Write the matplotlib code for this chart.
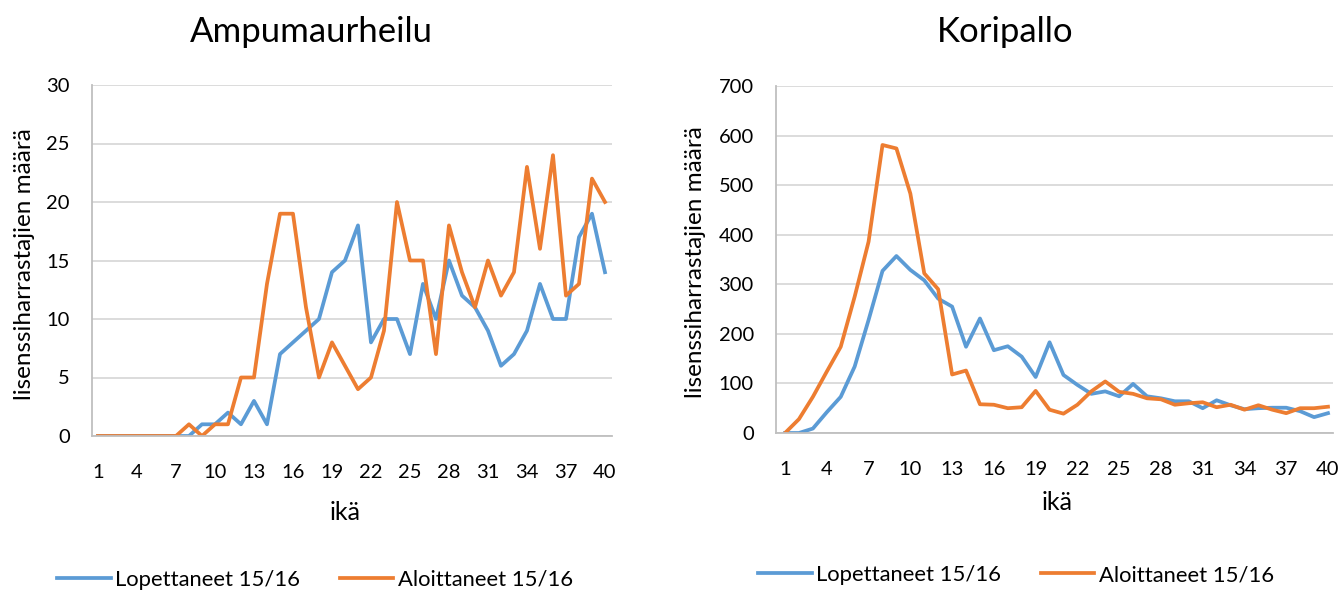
import matplotlib
matplotlib.use("Agg")
import matplotlib.pyplot as plt

plt.rcParams['font.family'] = ['Lato', 'DejaVu Sans']

# ikä 1..40
ages = list(range(1, 41))

# Ampumaurheilu
ampu_lopettaneet = [0, 0, 0, 0, 0, 0, 0, 0, 1, 1, 2, 1, 3, 1, 7, 8, 9, 10, 14, 15,
                    18, 8, 10, 10, 7, 13, 10, 15, 12, 11, 9, 6, 7, 9, 13, 10, 10, 17, 19, 14]
ampu_aloittaneet = [0, 0, 0, 0, 0, 0, 0, 1, 0, 1, 1, 5, 5, 13, 19, 19, 11, 5, 8, 6,
                    4, 5, 9, 20, 15, 15, 7, 18, 14, 11, 15, 12, 14, 23, 16, 24, 12, 13, 22, 20]

# Koripallo
kori_lopettaneet = [0, 0, 9, 42, 73, 134, 228, 327, 357, 329, 308, 271, 255, 174, 231, 167, 175, 154, 113, 183,
                    117, 97, 79, 84, 74, 99, 74, 70, 64, 64, 50, 66, 56, 48, 50, 51, 51, 44, 32, 40]
kori_aloittaneet = [0, 28, 73, 124, 174, 275, 386, 581, 574, 483, 322, 290, 118, 126, 58, 57, 50, 52, 85, 47,
                    39, 57, 84, 104, 83, 79, 70, 68, 57, 60, 62, 52, 57, 47, 56, 47, 40, 50, 50, 53]

blue = '#5B9BD5'
orange = '#ED7D31'
grid = '#D9D9D9'

fig = plt.figure(figsize=(13.42, 5.91), dpi=100)

W, H = 1342, 591


def box(x0, x1, ytop, ybot):
    return [x0 / W, 1 - ybot / H, (x1 - x0) / W, (ybot - ytop) / H]


charts = [
    dict(rect=box(92, 612, 85, 436), lop=ampu_lopettaneet, alo=ampu_aloittaneet,
         title='Ampumaurheilu', ymax=30, ystep=5, xlim=(0.54, 40.54),
         title_xy=(311, 32), ylab_xy=(25, 264), xlab_xy=(345, 512), leg_xy=(315, 580)),
    dict(rect=box(776, 1333, 86, 433), lop=kori_lopettaneet, alo=kori_aloittaneet,
         title='Koripallo', ymax=700, ystep=100, xlim=(0.35, 40.36),
         title_xy=(1005, 32), ylab_xy=(695, 262), xlab_xy=(1057, 503), leg_xy=(1016, 575)),
]

for c in charts:
    ax = fig.add_axes(c['rect'])
    l1, = ax.plot(ages, c['lop'], color=blue, lw=2.7, solid_joinstyle='round', label='Lopettaneet 15/16')
    l2, = ax.plot(ages, c['alo'], color=orange, lw=2.7, solid_joinstyle='round', label='Aloittaneet 15/16')
    ax.set_xlim(*c['xlim'])
    ax.set_ylim(0, c['ymax'])
    ax.set_xticks(ages[::3])
    ax.set_yticks(range(0, c['ymax'] + 1, c['ystep']))
    ax.yaxis.grid(True, color=grid, lw=1.3)
    ax.set_axisbelow(True)
    for s in ['top', 'right']:
        ax.spines[s].set_visible(False)
    for s in ['left', 'bottom']:
        ax.spines[s].set_color('#BFBFBF')
        ax.spines[s].set_linewidth(1.3)
    ax.tick_params(axis='both', length=0, labelsize=14.5, colors='black')
    ax.tick_params(axis='x', pad=20)
    ax.tick_params(axis='y', pad=16)

    tx, ty = c['title_xy']
    fig.text(tx / W, 1 - ty / H, c['title'], ha='center', va='center', fontsize=25)
    yx, yy = c['ylab_xy']
    fig.text(yx / W, 1 - yy / H, 'lisenssiharrastajien määrä', rotation=90,
             ha='center', va='center', fontsize=17.5)
    xx, xy = c['xlab_xy']
    fig.text(xx / W, 1 - xy / H, 'ikä', ha='center', va='center', fontsize=18)
    lx, ly = c['leg_xy']
    fig.legend(handles=[l1, l2], loc='center', bbox_to_anchor=(lx / W, 1 - ly / H),
               ncol=2, frameon=False, fontsize=15.8, handlelength=2.45,
               columnspacing=1.8, handletextpad=0.2, borderpad=0, borderaxespad=0)

fig.savefig('out.png', dpi=100)
